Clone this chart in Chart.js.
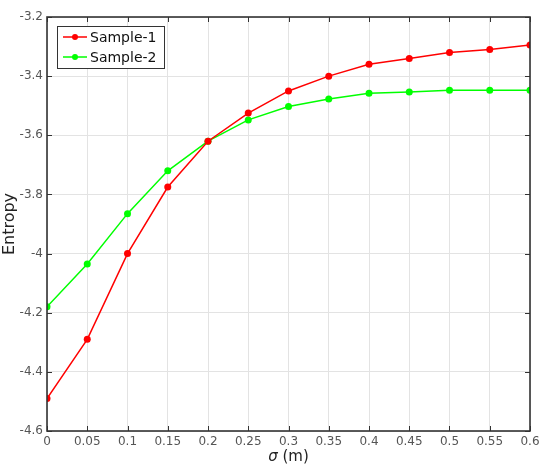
<!DOCTYPE html>
<html>
<head>
<meta charset="utf-8">
<script src="https://cdn.jsdelivr.net/npm/chart.js@4.4.1/dist/chart.umd.min.js"></script>
<style>
  html, body { margin: 0; padding: 0; background: #fff; }
  #wrap { width: 550px; height: 473px; }
</style>
</head>
<body>
<div id="wrap"><canvas id="entropyChart" width="550" height="473"></canvas></div>
<script>
// sigma values (m)
const sigmaValues = [0, 0.05, 0.1, 0.15, 0.2, 0.25, 0.3, 0.35, 0.4, 0.45, 0.5, 0.55, 0.6];
const sample1 = [-4.49, -4.29, -4.0, -3.775, -3.62, -3.525, -3.45, -3.40, -3.36, -3.34, -3.32, -3.31, -3.295];
const sample2 = [-4.18, -4.035, -3.865, -3.72, -3.62, -3.548, -3.503, -3.477, -3.458, -3.454, -3.448, -3.448, -3.448];
const seriesNames = ['Sample-1', 'Sample-2'];
const seriesColors = ['#ff0000', '#00ff00'];
const yTitle = 'Entropy';
const xTitle = ['\u03c3', ' (m)'];

const FONT = '"DejaVu Sans", sans-serif';
const AXIS_COLOR = '#333333';

function toPoints(ys) {
    return sigmaValues.map((x, i) => ({ x: x, y: ys[i] }));
}

function fmt(v) {
    return parseFloat(Number(v).toFixed(2)).toString();
}

// box, inward ticks, x title and legend drawn MATLAB-style
const matlabBox = {
    id: 'matlabBox',
    afterDraw(chart) {
        const ctx = chart.ctx;
        const area = chart.chartArea;
        const xs = chart.scales.x;
        const ys = chart.scales.y;
        ctx.save();
        ctx.strokeStyle = AXIS_COLOR;
        ctx.lineWidth = 1;
        // ticks on all four sides, pointing inward
        xs.ticks.forEach(t => {
            const px = Math.round(xs.getPixelForValue(t.value)) + 0.5;
            ctx.beginPath();
            ctx.moveTo(px, area.bottom); ctx.lineTo(px, area.bottom - 5);
            ctx.moveTo(px, area.top); ctx.lineTo(px, area.top + 5);
            ctx.stroke();
        });
        ys.ticks.forEach(t => {
            const py = Math.round(ys.getPixelForValue(t.value)) + 0.5;
            ctx.beginPath();
            ctx.moveTo(area.left, py); ctx.lineTo(area.left + 5, py);
            ctx.moveTo(area.right, py); ctx.lineTo(area.right - 5, py);
            ctx.stroke();
        });
        ctx.lineWidth = 1.6;
        ctx.strokeRect(area.left, area.top, area.right - area.left, area.bottom - area.top);

        // x axis title with italic sigma
        ctx.fillStyle = '#222';
        ctx.textBaseline = 'middle';
        ctx.textAlign = 'left';
        const f1 = 'italic 15px ' + FONT;
        const f2 = '15px ' + FONT;
        ctx.font = f1;
        const w1 = ctx.measureText(xTitle[0]).width;
        ctx.font = f2;
        const w2 = ctx.measureText(xTitle[1]).width;
        const cx = (area.left + area.right) / 2;
        const ty = 457;
        let sx = cx - (w1 + w2) / 2;
        ctx.font = f1;
        ctx.fillText(xTitle[0], sx, ty);
        ctx.font = f2;
        ctx.fillText(xTitle[1], sx + w1, ty);

        // legend
        const lx = 57, ly = 26, lw = 107, lh = 42;
        ctx.fillStyle = '#fff';
        ctx.fillRect(lx, ly, lw, lh);
        ctx.strokeStyle = AXIS_COLOR;
        ctx.lineWidth = 1;
        ctx.strokeRect(lx + 0.5, ly + 0.5, lw, lh);
        chart.data.datasets.forEach((ds, i) => {
            const rowY = ly + 11 + i * 20;
            ctx.strokeStyle = ds.borderColor;
            ctx.lineWidth = 1.5;
            ctx.beginPath();
            ctx.moveTo(lx + 6, rowY); ctx.lineTo(lx + 30, rowY);
            ctx.stroke();
            ctx.fillStyle = ds.borderColor;
            ctx.beginPath();
            ctx.arc(lx + 18, rowY, 3, 0, Math.PI * 2);
            ctx.fill();
            ctx.fillStyle = '#111';
            ctx.font = '14px ' + FONT;
            ctx.fillText(ds.label, lx + 33, rowY + 1);
        });
        ctx.restore();
    }
};

const ctx = document.getElementById('entropyChart').getContext('2d');
const chart = new Chart(ctx, {
    type: 'line',
    data: {
        datasets: [
            {
                label: seriesNames[0],
                data: toPoints(sample1),
                borderColor: seriesColors[0],
                backgroundColor: seriesColors[0],
                borderWidth: 1.5,
                pointRadius: 3.5,
                pointBorderWidth: 0,
                tension: 0
            },
            {
                label: seriesNames[1],
                data: toPoints(sample2),
                borderColor: seriesColors[1],
                backgroundColor: seriesColors[1],
                borderWidth: 1.5,
                pointRadius: 3.5,
                pointBorderWidth: 0,
                tension: 0
            }
        ]
    },
    options: {
        responsive: false,
        animation: false,
        devicePixelRatio: 1,
        layout: { padding: { left: 0, right: 20, top: 17, bottom: 0 } },
        plugins: {
            legend: { display: false },
            tooltip: { enabled: false }
        },
        scales: {
            x: {
                type: 'linear',
                min: 0,
                max: 0.6,
                ticks: {
                    stepSize: 0.05,
                    padding: 4,
                    color: '#555',
                    font: { family: FONT, size: 12 },
                    maxRotation: 0,
                    autoSkip: false,
                    callback: v => fmt(v)
                },
                grid: { color: '#e3e3e3', drawTicks: false },
                border: { display: false },
                afterFit: s => { s.height = 42; }
            },
            y: {
                min: -4.6,
                max: -3.2,
                ticks: {
                    stepSize: 0.2,
                    padding: 4,
                    color: '#555',
                    font: { family: FONT, size: 12 },
                    callback: v => fmt(v)
                },
                grid: { color: '#e3e3e3', drawTicks: false },
                border: { display: false },
                title: {
                    display: true,
                    text: yTitle,
                    color: '#222',
                    font: { family: FONT, size: 16 },
                    padding: { top: 0, bottom: 0 }
                },
                afterFit: s => { s.width = 47; }
            }
        }
    },
    plugins: [matlabBox]
});
</script>
</body>
</html>
